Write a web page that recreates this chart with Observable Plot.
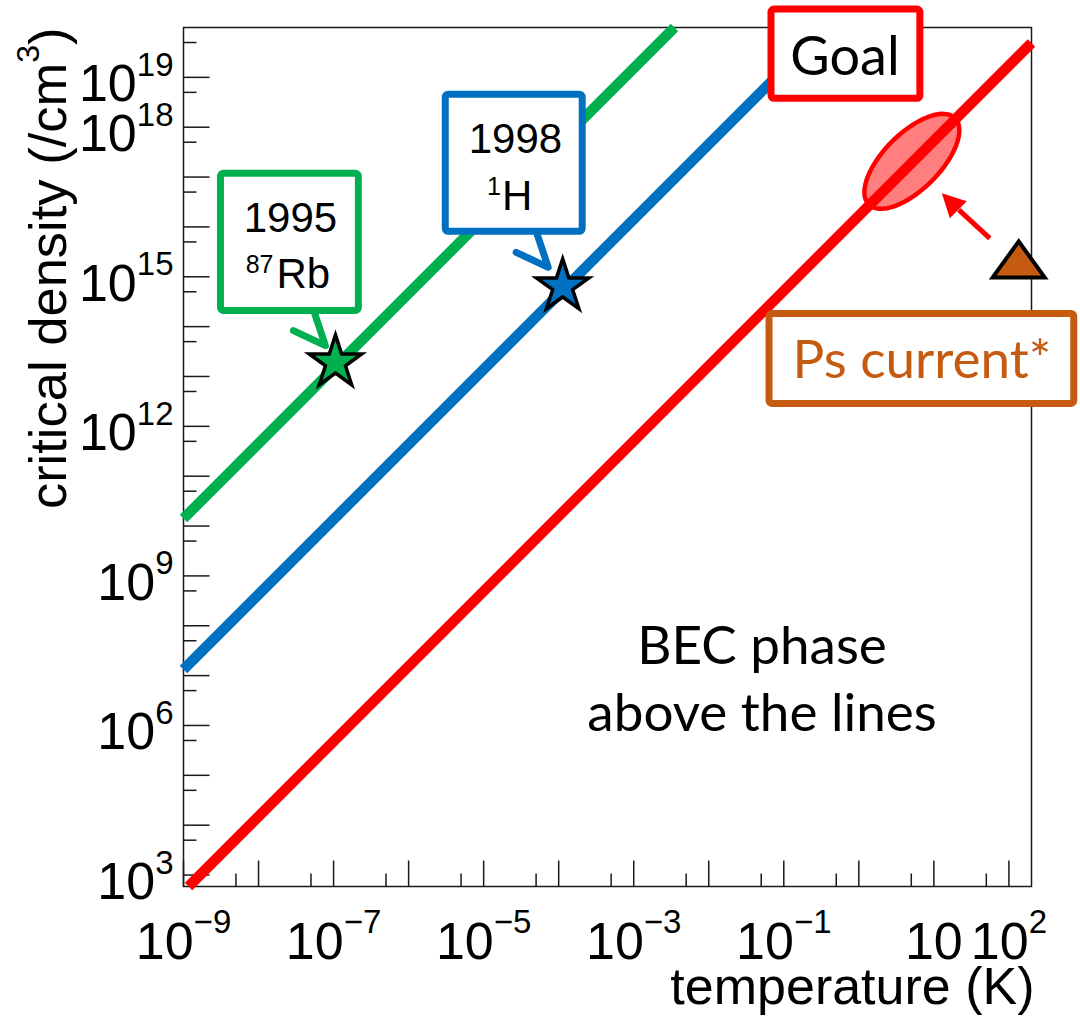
<!DOCTYPE html>
<html><head><meta charset="utf-8">
<script src="https://cdn.jsdelivr.net/npm/d3@7"></script>
<script src="https://cdn.jsdelivr.net/npm/@observablehq/plot@0.6"></script>
<style>html,body{margin:0;padding:0;background:#fff;} #chart svg{display:block;}</style>
</head><body><div id="chart"></div>
<script>
// ---------------- data ----------------
// BEC critical-density lines (endpoints, log-log straight lines)
const rbT = [1e-9, 10 ** -2.457];   const rbN = [10 ** 10.151, 1e20];   // 87Rb
const hT  = [1e-9, 10 ** -0.445];   const hN  = [10 ** 7.122, 1e20];    // 1H
const psT = [10 ** -8.933, 200];    const psN = [10 ** 2.77, 10 ** 19.69]; // Ps
// achieved BEC points
const becLabels = ["1995 87Rb", "1998 1H"];
const becT = [1.06e-7, 1.13e-4];
const becN = [1.91e13, 6.4e14];
// positronium: goal region centre and current status
const goalT = [5.09];   const goalN = [2.07e17];
const nowT  = [135];    const nowN  = [1.69e15];
// axis ticks
const xMajor = [1e-9,1e-8,1e-7,1e-6,1e-5,1e-4,1e-3,1e-2,1e-1,1,10,100];
const xMinor = [5e-9,5e-8,5e-7,5e-6,5e-5,5e-4,5e-3,5e-2,5e-1,5,50];
const xLabels = [1e-9,1e-7,1e-5,1e-3,1e-1,10,100];
const yMajor = [1e3,1e4,1e5,1e6,1e7,1e8,1e9,1e10,1e11,1e12,1e13,1e14,1e15,1e16,1e17,1e18,1e19];
const yMinor = [5e3,5e4,5e5,5e6,5e7,5e8,5e9,5e10,5e11,5e12,5e13,5e14,5e15,5e16,5e17,5e18,5e19];
const yLabels = [1e3,1e6,1e9,1e12,1e15,1e18,1e19];
const xTitle = "temperature (K)";
const yTitle = "critical density (/cm^3^)";

// ---------------- styles ----------------
const GREEN = "#00b050", BLUE = "#0070c0", RED = "#ff0000", BROWN = "#c55a11";
const HELV = "Liberation Sans, Arial, Helvetica, sans-serif";
const CAL = "Lato, Carlito, Calibri, sans-serif";
const AX = "#1a1a1a";

const pairs = (a, b) => a.map((v, i) => ({x: v, y: b[i]}));
const fmtPow = v => { const e = Math.round(Math.log10(v)); return e === 1 ? "10" : `10^${e < 0 ? "\u2212" : ""}${Math.abs(e)}`; };

// custom symbols (pixel shapes positioned through the scales)
const tickUp = len => ({draw(c){ c.moveTo(0,0); c.lineTo(0,-len); }});
const tickRight = len => ({draw(c){ c.moveTo(0,0); c.lineTo(len,0); }});
const ellipseSym = (a, b, deg) => ({draw(c){
  const th = deg * Math.PI / 180;
  for (let i = 0; i <= 96; i++) {
    const t = i / 96 * 2 * Math.PI, ex = a * Math.cos(t), ey = b * Math.sin(t);
    const x = ex * Math.cos(th) + ey * Math.sin(th), y = -ex * Math.sin(th) + ey * Math.cos(th);
    i ? c.lineTo(x, y) : c.moveTo(x, y);
  }
  c.closePath();
}});
const triSym = {draw(c){ c.moveTo(0,-24); c.lineTo(26,12); c.lineTo(-26,12); c.closePath(); }};
const headSym = {draw(c){ c.moveTo(0,0); c.lineTo(8,25); c.lineTo(25,8); c.closePath(); }};
const calloutSym = {draw(c){ c.moveTo(-11,-33); c.lineTo(0,0); c.lineTo(-32,-15); }};

// annotation helpers (positions given in data units, as log10 exponents)
const P = (lx, ly) => ({x: 10 ** lx, y: 10 ** ly});
const txt = (lx, ly, s, o) => Plot.text([{...P(lx, ly), s}], {x: "x", y: "y", text: "s", lineAnchor: "bottom", ...o});
const box = (lx1, lx2, ly1, ly2, color) => Plot.rect([{x1: 10 ** lx1, x2: 10 ** lx2, y1: 10 ** ly1, y2: 10 ** ly2}],
  {x1: "x1", x2: "x2", y1: "y1", y2: "y2", fill: "white", stroke: color, strokeWidth: 7, rx: 3});

const yMin = 10 ** 2.77, xMin = 1e-9;

const svg = Plot.plot({
  width: 1080, height: 1017,
  marginLeft: 183, marginRight: 49, marginTop: 27, marginBottom: 131,
  style: {background: "white", fontFamily: HELV, overflow: "visible"},
  x: {type: "log", domain: [1e-9, 200], axis: null},
  y: {type: "log", domain: [yMin, 1e20], axis: null},
  marks: [
    Plot.frame({stroke: AX, strokeWidth: 1.5}),
    // ticks (inward)
    Plot.dot(xMajor, {x: d => d, y: () => yMin, symbol: tickUp(26), fill: "none", stroke: AX, strokeWidth: 1.5}),
    Plot.dot(xMinor, {x: d => d, y: () => yMin, symbol: tickUp(13), fill: "none", stroke: AX, strokeWidth: 1.5}),
    Plot.dot(yMajor, {x: () => xMin, y: d => d, symbol: tickRight(26), fill: "none", stroke: AX, strokeWidth: 1.5}),
    Plot.dot(yMinor, {x: () => xMin, y: d => d, symbol: tickRight(13), fill: "none", stroke: AX, strokeWidth: 1.5}),
    // tick labels
    Plot.text(xLabels, {x: d => d, y: () => yMin, text: fmtPow, textAnchor: "middle", lineAnchor: "bottom", dy: 72,
      fontSize: 52, fontFamily: HELV, fill: "black"}),
    Plot.text(yLabels, {x: () => xMin, y: d => d, text: fmtPow, textAnchor: "end", lineAnchor: "bottom", dx: -10, dy: 24,
      fontSize: 52, fontFamily: HELV, fill: "black"}),
    // axis titles
    Plot.text([xTitle], {frameAnchor: "bottom-right", textAnchor: "end", lineAnchor: "bottom", dx: 3, dy: 117,
      fontSize: 52, fontFamily: HELV, fill: "black"}),
    Plot.text([yTitle], {frameAnchor: "top-left", rotate: -90, textAnchor: "end", lineAnchor: "bottom", dx: -118, dy: 0,
      fontSize: 52.5, fontFamily: HELV, fill: "black"}),
    // critical-density lines
    Plot.line(pairs(rbT, rbN), {x: "x", y: "y", stroke: GREEN, strokeWidth: 10.5, strokeLinecap: "butt"}),
    Plot.line(pairs(hT, hN), {x: "x", y: "y", stroke: BLUE, strokeWidth: 10.5, strokeLinecap: "butt"}),
    Plot.line(pairs(psT, psN), {x: "x", y: "y", stroke: RED, strokeWidth: 10.5, strokeLinecap: "butt"}),
    // achieved BEC stars
    Plot.dot([0], {x: i => becT[i], y: i => becN[i], symbol: "star", r: 16.5, fill: GREEN, stroke: "black", strokeWidth: 3.5, title: i => becLabels[i]}),
    Plot.dot([1], {x: i => becT[i], y: i => becN[i], symbol: "star", r: 16.5, fill: BLUE, stroke: "black", strokeWidth: 3.5, title: i => becLabels[i]}),
    // callout pointers
    Plot.dot([P(-7.109, 13.62)], {x: "x", y: "y", symbol: calloutSym, fill: "none", stroke: GREEN, strokeWidth: 7, strokeLinecap: "round", strokeLinejoin: "round"}),
    Plot.dot([P(-4.140, 15.19)], {x: "x", y: "y", symbol: calloutSym, fill: "none", stroke: BLUE, strokeWidth: 7, strokeLinecap: "round", strokeLinejoin: "round"}),
    // boxes
    box(-8.501, -6.663, 14.315, 17.066, GREEN),
    box(-5.505, -3.680, 15.902, 18.653, BLUE),
    box(-1.164, 0.820, 18.57, 20.36, RED),
    box(-1.190, 2.871, 12.448, 14.255, BROWN),
    // box texts
    txt(-7.575, 15.892, "1995", {fontSize: 42, fontFamily: HELV, fill: "black", textAnchor: "middle"}),
    txt(-7.774, 14.767, "Rb", {fontSize: 42, fontFamily: HELV, fill: "black", textAnchor: "start", dx: 1}),
    txt(-7.774, 14.767, "87", {fontSize: 25, fontFamily: HELV, fill: "black", textAnchor: "end", dx: -2, dy: -15}),
    txt(-4.576, 17.473, "1998", {fontSize: 42, fontFamily: HELV, fill: "black", textAnchor: "middle"}),
    txt(-4.770, 16.330, "H", {fontSize: 42, fontFamily: HELV, fill: "black", textAnchor: "start", dx: 1}),
    txt(-4.770, 16.330, "1", {fontSize: 25, fontFamily: HELV, fill: "black", textAnchor: "end", dx: 0, dy: -15}),
    txt(-0.185, 19.04, "Goal", {fontSize: 54, fontFamily: CAL, fill: "black", textAnchor: "middle"}),
    txt(0.840, 12.960, "Ps current*", {fontSize: 53, fontFamily: CAL, fill: BROWN, textAnchor: "middle"}),
    txt(-1.290, 7.237, "BEC phase", {fontSize: 53, fontFamily: CAL, fill: "black", textAnchor: "middle"}),
    txt(-1.290, 5.892, "above the lines", {fontSize: 53, fontFamily: CAL, fill: "black", textAnchor: "middle"}),
    // Ps goal region, current status, arrow
    Plot.dot(goalT, {x: d => d, y: (d, i) => goalN[i], symbol: ellipseSym(61, 28, 45), fill: RED, fillOpacity: 0.5, stroke: RED, strokeWidth: 4.5}),
    Plot.link([{x1: 55.7, y1: 5.9e15, x2: 21.5, y2: 2.2e16}], {x1: "x1", y1: "y1", x2: "x2", y2: "y2", stroke: RED, strokeWidth: 5}),
    Plot.dot([P(1.106, 16.675)], {x: "x", y: "y", symbol: headSym, fill: RED, stroke: "none"}),
    Plot.dot(nowT, {x: d => d, y: (d, i) => nowN[i], symbol: triSym, fill: BROWN, stroke: "black", strokeWidth: 4})
  ]
});

// superscripts as real tspans (text written as base^sup^rest)
d3.select(svg).selectAll("text").each(function () {
  const s = this.textContent;
  if (!s || s.indexOf("^") < 0) return;
  const parts = s.split("^");
  const isTitle = s.indexOf("density") >= 0;
  const size = isTitle ? 32 : 33, shift = isTitle ? 27 : 25.5;
  const t = d3.select(this);
  t.selectAll("*").remove();
  this.textContent = "";
  t.append("tspan").text(parts[0]);
  t.append("tspan").attr("dy", -shift).attr("font-size", size).text(parts[1]);
  if (parts[2] !== undefined && parts[2] !== "") t.append("tspan").attr("dy", shift).text(parts[2]);
});

document.getElementById("chart").appendChild(svg);
</script>
</body></html>
